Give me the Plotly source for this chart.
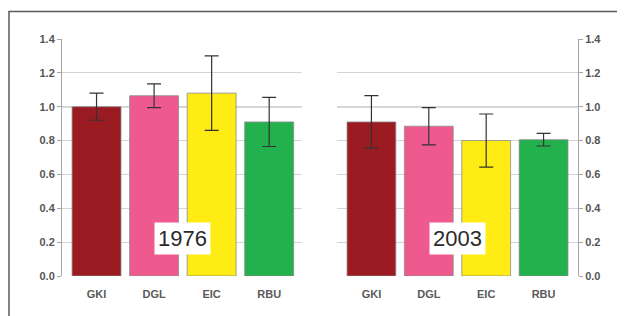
import plotly.graph_objects as go

categories = ["GKI", "DGL", "EIC", "RBU"]
colors = ["#9b1b22", "#ef5a8e", "#ffec14", "#22b14c"]

values_1976 = [1.00, 1.065, 1.08, 0.91]
errors_1976 = [0.08, 0.07, 0.22, 0.145]
values_2003 = [0.91, 0.885, 0.80, 0.805]
errors_2003 = [0.155, 0.11, 0.157, 0.037]

year_labels = ["1976", "2003"]
y_ticks = [0.0, 0.2, 0.4, 0.6, 0.8, 1.0, 1.2, 1.4]

W, H = 625, 316
OFF = 8  # browser default body margin
FW, FH = W - OFF, H - OFF
fig = go.Figure()

xs = list(range(len(categories)))
for i, (vals, errs) in enumerate([(values_1976, errors_1976), (values_2003, errors_2003)]):
    xa = "x" if i == 0 else "x2"
    ya = "y" if i == 0 else "y2"
    fig.add_trace(go.Bar(
        x=xs, y=vals, xaxis=xa, yaxis=ya,
        marker=dict(color=colors, line=dict(color="#8a8a8a", width=0.8)),
        width=0.85,
        error_y=dict(type="data", array=errs, visible=True, color="#333333", thickness=1.2, width=7),
        showlegend=False,
    ))

def px_x(p):
    return (p - OFF) / FW

def px_y(p):
    return 1 - (p - OFF) / FH

font_family = "Liberation Sans, Arial, sans-serif"
tick_font = dict(family=font_family, size=11, color="#555555", weight="bold")

common_y = dict(
    range=[0, 1.4], tickvals=y_ticks, ticktext=[f"{v:.1f}" for v in y_ticks],
    showgrid=True, gridcolor="#d4d4d4", gridwidth=1,
    zeroline=False, showline=True, linecolor="#a5a5a5", linewidth=1,
    ticks="outside", ticklen=4, tickcolor="#a5a5a5", tickfont=tick_font,
    domain=[px_y(276), px_y(39)], fixedrange=True, automargin=False,
)
common_x = dict(
    tickvals=xs, ticktext=categories, showgrid=False, zeroline=False,
    showline=False, ticks="", tickfont=dict(family=font_family, size=11, color="#5a5a5a", weight="bold"),
    fixedrange=True, automargin=False, ticklabelstandoff=10,
)

fig.update_layout(
    width=FW, height=FH,
    margin=dict(l=0, r=0, t=0, b=0, autoexpand=False),
    paper_bgcolor="white", plot_bgcolor="white",
    xaxis=dict(domain=[px_x(62), px_x(302)], range=[-0.6, 3.57], anchor="y", **common_x),
    xaxis2=dict(domain=[px_x(337), px_x(578)], range=[-0.6, 3.6], anchor="y2", **common_x),
    yaxis=dict(anchor="x", side="left", **common_y),
    yaxis2=dict(anchor="x2", side="right", **common_y),
    bargap=0.15,
)

# reference line at 1.0 in each panel
for xr, yr in [("x domain", "y"), ("x2 domain", "y2")]:
    fig.add_shape(type="line", xref=xr, yref=yr, x0=0, x1=1, y0=1.0, y1=1.0,
                  line=dict(color="#6e6e6e", width=1.2), layer="below")

# year labels
for xr, yr, lab in [("x", "y", year_labels[0]), ("x2", "y2", year_labels[1])]:
    fig.add_annotation(x=1.5, y=0.22, xref=xr, yref=yr, text=lab, showarrow=False,
                       font=dict(family=font_family, size=22, color="#2a2a2a"),
                       bgcolor="white", borderpad=3)

# frame lines
fig.add_shape(type="line", xref="paper", yref="paper", x0=px_x(8.5), x1=1, y0=px_y(11.5), y1=px_y(11.5),
              line=dict(color="#5a5a5a", width=1.5))
fig.add_shape(type="line", xref="paper", yref="paper", x0=px_x(9), x1=px_x(9), y0=0, y1=px_y(11),
              line=dict(color="#5a5a5a", width=1.5))

fig.write_html("out.html")
